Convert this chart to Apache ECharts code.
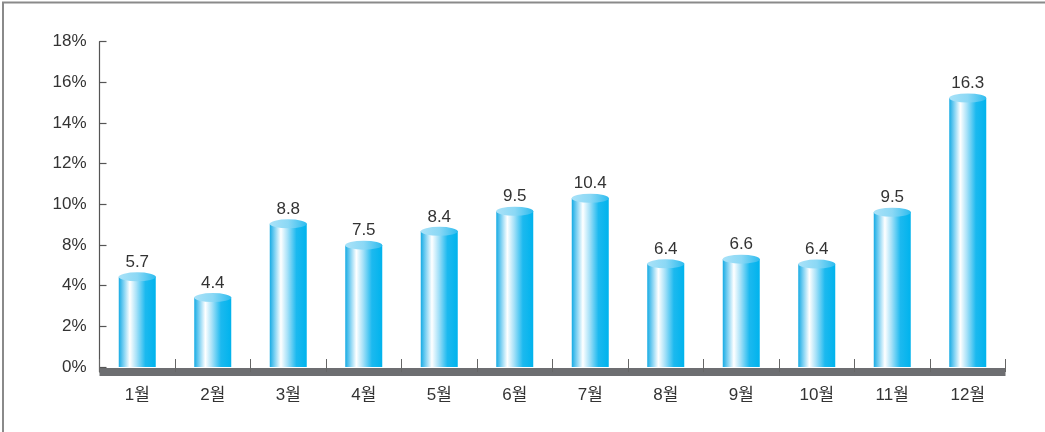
<!DOCTYPE html>
<html><head><meta charset="utf-8">
<script src="https://cdn.jsdelivr.net/npm/echarts@6/dist/echarts.min.js"></script>
<style>html,body{margin:0;padding:0;background:#fff}#c{width:1045px;height:432px}</style>
</head><body><div id="c"></div>
<script>
const categories = ['1월','2월','3월','4월','5월','6월','7월','8월','9월','10월','11월','12월'];
// bar heights as drawn against the printed tick positions (each tick step = 2 units)
const barHeights = [4.43, 3.41, 7.04, 5.99, 6.67, 7.66, 8.30, 5.07, 5.30, 5.06, 7.61, 13.23];
// numbers printed above the bars
const valueLabels = ['5.7','4.4','8.8','7.5','8.4','9.5','10.4','6.4','6.6','6.4','9.5','16.3'];
// tick labels as printed on the y axis (bottom to top)
const yTickLabels = ['0%','2%','4%','8%','10%','12%','14%','16%','18%'];
const yTickValues = [0, 2, 4, 6, 8, 10, 12, 14, 16];

const FONT = '"Liberation Sans", Arial, "Noto Sans CJK KR", sans-serif';
const chart = echarts.init(document.getElementById('c'), null, {renderer: 'canvas'});
const bodyGrad = new echarts.graphic.LinearGradient(0, 0, 1, 0, [
  {offset: 0, color: '#16abe4'},
  {offset: 0.12, color: '#73cdf1'},
  {offset: 0.3, color: '#ffffff'},
  {offset: 0.48, color: '#a6e1f8'},
  {offset: 0.72, color: '#1cb9ef'},
  {offset: 1, color: '#00b3ed'}
]);
const topGrad = new echarts.graphic.LinearGradient(0, 0, 1, 0, [
  {offset: 0, color: '#a9e2f8'},
  {offset: 0.5, color: '#8bd8f5'},
  {offset: 1, color: '#2dbcef'}
]);
chart.setOption({
  animation: false,
  backgroundColor: '#ffffff',
  graphic: [
    {type: 'line', shape: {x1: 2, y1: 2.5, x2: 1045, y2: 2.5}, style: {stroke: '#8a8a8a', lineWidth: 2}, z: 100},
    {type: 'line', shape: {x1: 3, y1: 2, x2: 3, y2: 432}, style: {stroke: '#8a8a8a', lineWidth: 2}, z: 100}
  ],
  grid: {left: 99.5, right: 39.5, top: 41.7, bottom: 60},
  xAxis: {
    type: 'category',
    data: categories,
    axisLine: {onZero: false, lineStyle: {color: '#6d6e71', width: 8, cap: 'butt'}},
    axisTick: {show: true, inside: true, length: 13, lineStyle: {color: '#666', width: 1}},
    axisLabel: {fontSize: 17, color: '#333', margin: 15, fontFamily: FONT}
  },
  yAxis: {
    type: 'value',
    min: -0.25, max: 16,
    axisLine: {show: true, lineStyle: {color: '#555', width: 1.2}},
    axisTick: {show: true, inside: true, length: 7, customValues: yTickValues, lineStyle: {color: '#555', width: 1.2}},
    splitLine: {show: false},
    axisLabel: {
      fontSize: 17, color: '#333', margin: 13, fontFamily: FONT,
      customValues: yTickValues,
      formatter: v => yTickLabels[Math.round(v / 2)]
    }
  },
  series: [
    {
      type: 'bar',
      data: barHeights,
      barWidth: 37,
      itemStyle: {color: bodyGrad},
      label: {
        show: true, position: 'top', distance: 6,
        fontSize: 17, color: '#333', fontFamily: FONT,
        formatter: p => valueLabels[p.dataIndex]
      },
      z: 2
    },
    {
      type: 'pictorialBar',
      data: barHeights,
      symbol: 'circle',
      symbolSize: [37, 9],
      symbolPosition: 'end',
      symbolOffset: [0, '-50%'],
      itemStyle: {color: topGrad},
      z: 3
    }
  ]
});
</script>
</body></html>
